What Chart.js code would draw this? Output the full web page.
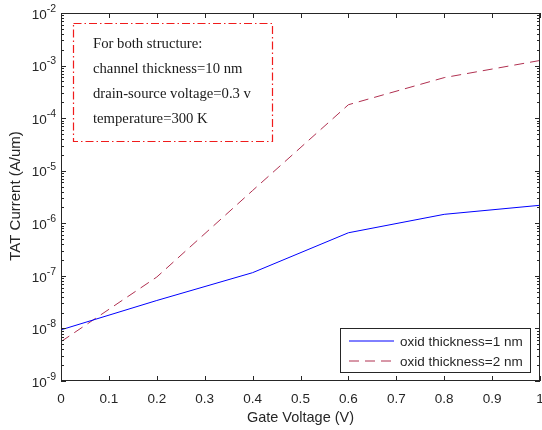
<!DOCTYPE html>
<html>
<head>
<meta charset="utf-8">
<script src="https://cdn.jsdelivr.net/npm/chart.js@4.4.0/dist/chart.umd.min.js"></script>
<style>
  html, body { margin: 0; padding: 0; background: #fff; }
  #wrap { width: 542px; height: 430px; }
</style>
</head>
<body>
<div id="wrap"><canvas id="tat" width="542" height="430"></canvas></div>
<script>
// gate voltage sweep (V)
var voltage = [0, 0.2, 0.4, 0.6, 0.8, 1.0];
// TAT current (A/um) for each oxide thickness
var tatOxid1 = [9.4e-9, 3.4e-8, 1.15e-7, 6.6e-7, 1.48e-6, 2.2e-6];
var tatOxid2 = [5.6e-9, 9.5e-8, 4.2e-6, 1.8e-4, 5.9e-4, 1.25e-3];

var seriesNames = ['oxid thickness=1 nm', 'oxid thickness=2 nm'];
var xTicks = [0, 0.1, 0.2, 0.3, 0.4, 0.5, 0.6, 0.7, 0.8, 0.9, 1];
var xTickLabels = ['0', '0.1', '0.2', '0.3', '0.4', '0.5', '0.6', '0.7', '0.8', '0.9', '1'];
var yDecades = [-9, -8, -7, -6, -5, -4, -3, -2];
var noteLines = ['For both structure:', 'channel thickness=10 nm', 'drain-source voltage=0.3 v', 'temperature=300 K'];

var AXIS = '#262626';
var SANS = '"Liberation Sans", Arial, sans-serif';
var SERIF = '"Liberation Serif", "Times New Roman", serif';

function toPoints(xs, ys){
  var pts = [];
  for(var i=0; i<xs.length; i++) pts.push({x: xs[i], y: ys[i]});
  return pts;
}

// frame, inward ticks, superscript labels, legend and note box
var matlabAxes = {
  id: 'matlabAxes',
  afterDraw: function(chart){
    var ctx = chart.ctx, a = chart.chartArea;
    var xs = chart.scales.x, ys = chart.scales.y;
    ctx.save();
    ctx.strokeStyle = AXIS;
    ctx.lineWidth = 1;
    ctx.strokeRect(a.left + 0.5, a.top + 0.5, a.right - a.left - 1, a.bottom - a.top - 1);

    ctx.beginPath();
    xTicks.forEach(function(v){
      var px = Math.round(xs.getPixelForValue(v)) + 0.5;
      ctx.moveTo(px, a.bottom); ctx.lineTo(px, a.bottom - 5);
      ctx.moveTo(px, a.top); ctx.lineTo(px, a.top + 5);
    });
    yDecades.forEach(function(d, k){
      var py = Math.round(ys.getPixelForValue(Math.pow(10, d))) + 0.5;
      ctx.moveTo(a.left, py); ctx.lineTo(a.left + 5, py);
      ctx.moveTo(a.right, py); ctx.lineTo(a.right - 5, py);
      if(k < yDecades.length - 1){
        for(var m=2; m<10; m++){
          var pm = Math.round(ys.getPixelForValue(m * Math.pow(10, d))) + 0.5;
          ctx.moveTo(a.left, pm); ctx.lineTo(a.left + 3, pm);
          ctx.moveTo(a.right, pm); ctx.lineTo(a.right - 3, pm);
        }
      }
    });
    ctx.stroke();

    // tick labels
    ctx.fillStyle = AXIS;
    ctx.font = '13.5px ' + SANS;
    ctx.textAlign = 'center';
    ctx.textBaseline = 'middle';
    xTicks.forEach(function(v, i){
      ctx.fillText(xTickLabels[i], xs.getPixelForValue(v), a.bottom + 18);
    });
    yDecades.forEach(function(d){
      var py = ys.getPixelForValue(Math.pow(10, d));
      var sup = '-' + Math.abs(d);
      ctx.font = '10.5px ' + SANS;
      var supW = ctx.measureText(sup).width;
      ctx.textAlign = 'left';
      ctx.fillText(sup, a.left - 5 - supW, py - 4);
      ctx.font = '13.5px ' + SANS;
      ctx.textAlign = 'right';
      ctx.fillText('10', a.left - 5 - supW, py + 2);
    });

    // axis titles
    ctx.font = '14.5px ' + SANS;
    ctx.textAlign = 'center';
    ctx.fillText('Gate Voltage (V)', (a.left + a.right) / 2, a.bottom + 37);
    ctx.save();
    ctx.font = '15px ' + SANS;
    ctx.translate(16, 196);
    ctx.rotate(-Math.PI / 2);
    ctx.fillText('TAT Current (A/um)', 0, 0);
    ctx.restore();

    // legend (lower right)
    var lx = 340, ly = 328, lw = 190, lh = 44;
    ctx.fillStyle = '#fff';
    ctx.fillRect(lx, ly, lw, lh);
    ctx.strokeStyle = AXIS;
    ctx.strokeRect(lx + 0.5, ly + 0.5, lw, lh);
    chart.data.datasets.forEach(function(ds, i){
      var ry = ly + 13 + i * 20;
      ctx.strokeStyle = ds.borderColor;
      ctx.lineWidth = ds.borderWidth;
      ctx.setLineDash(ds.borderDash || []);
      ctx.beginPath();
      ctx.moveTo(lx + 9, ry); ctx.lineTo(lx + 54, ry);
      ctx.stroke();
      ctx.setLineDash([]);
      ctx.fillStyle = AXIS;
      ctx.font = '13.5px ' + SANS;
      ctx.textAlign = 'left';
      ctx.fillText(ds.label, lx + 60, ry + 1);
    });

    // note box (upper left)
    ctx.strokeStyle = '#f01c1c';
    ctx.lineWidth = 1.2;
    ctx.setLineDash([8, 3, 1.5, 3]);
    ctx.strokeRect(73.5, 23.5, 199, 118);
    ctx.setLineDash([]);
    ctx.fillStyle = '#1a1a1a';
    ctx.font = '14.7px ' + SERIF;
    ctx.textAlign = 'left';
    noteLines.forEach(function(t, i){
      ctx.fillText(t, 93, 44 + i * 25);
    });
    ctx.restore();
  }
};

var chart = new Chart(document.getElementById('tat'), {
  type: 'line',
  data: {
    datasets: [
      {label: seriesNames[0], data: toPoints(voltage, tatOxid1), borderColor: '#0000ff', borderWidth: 1, pointRadius: 0, tension: 0},
      {label: seriesNames[1], data: toPoints(voltage, tatOxid2), borderColor: '#b03050', borderWidth: 1, borderDash: [10, 6], pointRadius: 0, tension: 0}
    ]
  },
  options: {
    responsive: false,
    animation: false,
    layout: {padding: {left: 61, top: 13, right: 2, bottom: 49}},
    plugins: {legend: {display: false}, tooltip: {enabled: false}},
    scales: {
      x: {type: 'linear', min: 0, max: 1, display: false},
      y: {type: 'logarithmic', min: 1e-9, max: 1e-2, display: false}
    }
  },
  plugins: [matlabAxes]
});
</script>
</body>
</html>
